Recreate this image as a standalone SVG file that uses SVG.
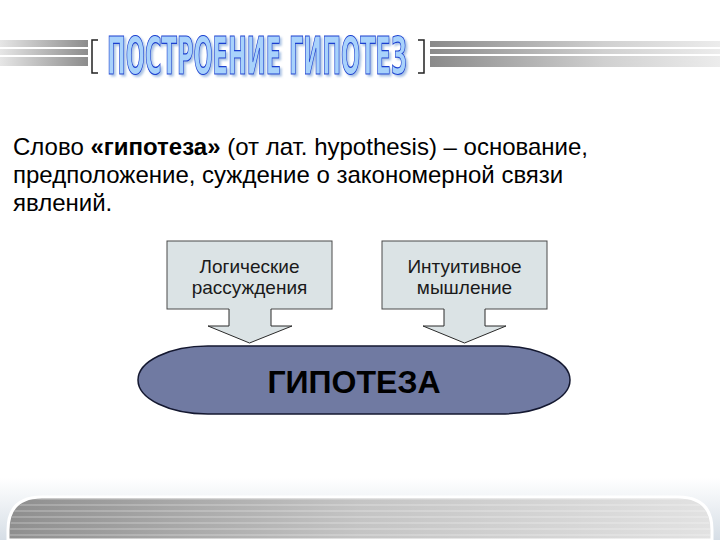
<svg xmlns="http://www.w3.org/2000/svg" width="720" height="540" viewBox="0 0 720 540">
<defs>
<linearGradient id="gL" x1="0" x2="1" y1="0" y2="0"><stop offset="0" stop-color="#e6e6e6"/><stop offset="1" stop-color="#8c8c8c"/></linearGradient>
<linearGradient id="gR" x1="0" x2="1" y1="0" y2="0"><stop offset="0" stop-color="#8a8a8a"/><stop offset="0.6" stop-color="#d0d0d0"/><stop offset="1" stop-color="#ececec"/></linearGradient>
<linearGradient id="gB" x1="0" x2="1" y1="0" y2="0"><stop offset="0" stop-color="#8e8e8e"/><stop offset="0.5" stop-color="#c4c4c4"/><stop offset="1" stop-color="#e2e2e2"/></linearGradient>
<linearGradient id="gGlow" x1="0" x2="0" y1="0" y2="1"><stop offset="0" stop-color="#ffffff"/><stop offset="1" stop-color="#d6dee6"/></linearGradient>
<pattern id="stripes" width="8" height="6" patternUnits="userSpaceOnUse"><rect width="8" height="2" y="0" fill="#ffffff" opacity="0.2"/></pattern>
<filter id="shadow" x="-20%" y="-40%" width="140%" height="180%"><feDropShadow dx="2" dy="2" stdDeviation="1" flood-color="#6f9ad0" flood-opacity="0.6"/></filter>
<style>
.box{fill:#dbe3e5;stroke:#4a4a4a;stroke-width:1}
.arrowFill{fill:#dbe3e5;stroke:none}
.arrowLine{fill:none;stroke:#2a2a2a;stroke-width:1}
.lbl{font-family:"Liberation Sans",Arial,sans-serif;font-size:19px;fill:#1a1a1a;text-anchor:middle}
.body{font-family:"Liberation Sans",Arial,sans-serif;font-size:24px;fill:#000}
.title{font-family:"DejaVu Sans Condensed","DejaVu Sans",sans-serif;font-weight:bold;font-size:52px}
.br{fill:none;stroke:#222;stroke-width:1.5}
</style>
</defs>
<rect width="720" height="540" fill="#ffffff"/>

<g id="header">
<rect x="0" y="40" width="88" height="7" fill="url(#gL)"/>
<rect x="0" y="49" width="88" height="6" fill="url(#gL)"/>
<rect x="0" y="57" width="88" height="9" fill="url(#gL)"/>
<rect x="430" y="41" width="290" height="6" fill="url(#gR)"/>
<rect x="430" y="49" width="290" height="5" fill="url(#gR)"/>
<rect x="430" y="56" width="290" height="11" fill="url(#gR)"/>
<path class="br" d="M98 40 H92 V73 H98"/>
<path class="br" d="M418 40 H424 V73 H418"/>
<text class="title" x="107" y="74" textLength="300" lengthAdjust="spacingAndGlyphs" fill="#a8d2fb" stroke="#1b3fd0" stroke-width="1.2" filter="url(#shadow)">ПОСТРОЕНИЕ ГИПОТЕЗ</text>
</g>

<g id="definition">
<text class="body" x="13" y="155">Слово <tspan font-weight="bold">«гипотеза»</tspan> (от лат. hypothesis) – основание,</text>
<text class="body" x="13" y="183">предположение, суждение о закономерной связи</text>
<text class="body" x="13" y="211">явлений.</text>
</g>

<g id="node-logic">
<rect class="box" x="167" y="241" width="165" height="68"/>
<text class="lbl" x="249.5" y="273">Логические</text>
<text class="lbl" x="249.5" y="294">рассуждения</text>
</g>
<g id="node-intuition">
<rect class="box" x="382" y="241" width="165" height="68"/>
<text class="lbl" x="464.5" y="273">Интуитивное</text>
<text class="lbl" x="464.5" y="294">мышление</text>
</g>

<g id="connectors">
<path class="arrowFill" d="M229 308 V326 H208 L249.5 343 L292 326 H271 V308 Z"/>
<path class="arrowLine" d="M229 309 V326 H208 L249.5 343 L292 326 H271 V309"/>
<path class="arrowFill" d="M444 308 V326 H423 L464.5 343 L506 326 H485 V308 Z"/>
<path class="arrowLine" d="M444 309 V326 H423 L464.5 343 L506 326 H485 V309"/>
</g>

<g id="node-hypothesis">
<path d="M208 346 H500 A70 34 0 0 1 500 414 H208 A70 34 0 0 1 208 346 Z" fill="#707aa2" stroke="#141830" stroke-width="1.5"/>
<text x="354" y="393" font-family="'Liberation Sans',Arial,sans-serif" font-weight="bold" font-size="32" fill="#000" text-anchor="middle">ГИПОТЕЗА</text>
</g>

<g id="footer">
<rect x="0" y="478" width="720" height="62" fill="url(#gGlow)"/>
<path d="M8 540 V530 Q8 497 42 497 H678 Q712 497 712 530 V540 Z" fill="url(#gB)" stroke="#ffffff" stroke-width="3"/>
<path d="M10 540 V530 Q10 499 42 499 H678 Q710 499 710 530 V540 Z" fill="url(#stripes)"/>
</g>
</svg>
